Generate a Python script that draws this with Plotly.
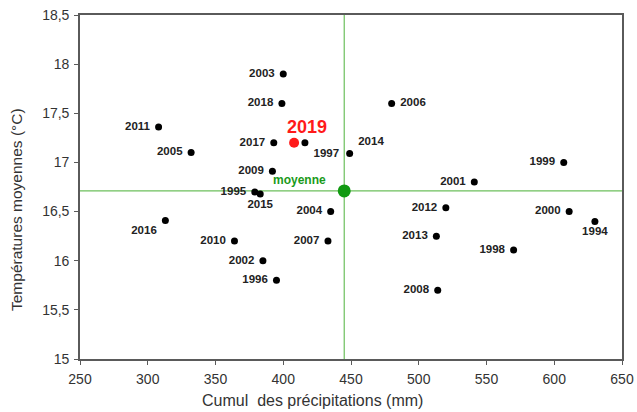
import plotly.graph_objects as go

years = ["2011", "2005", "2003", "2018", "2017", "1997", "2009", "1995", "2015",
         "2006", "2014", "1999", "2001", "2016", "2010", "2002", "1996",
         "2004", "2007", "2012", "2013", "1998", "2008", "2000", "1994"]
precip = [308, 332, 400, 399, 393, 416, 392, 379, 383,
          480, 449, 607, 541, 313, 364, 385, 395,
          435, 433, 520, 513, 570, 514, 611, 630]
temp = [17.36, 17.10, 17.90, 17.60, 17.20, 17.20, 16.91, 16.70, 16.68,
        17.60, 17.09, 17.00, 16.80, 16.41, 16.20, 16.00, 15.80,
        16.50, 16.20, 16.54, 16.25, 16.11, 15.70, 16.50, 16.40]
label_pos = ["middle left", "middle left", "middle left", "middle left", "middle left",
             "bottom right", "middle left", "middle left", "bottom center",
             "middle right", "top right", "middle left", "middle left", "bottom left",
             "middle left", "middle left", "middle left",
             "middle left", "middle left", "middle left", "middle left", "middle left",
             "middle left", "middle left", "bottom center"]

highlight_year = "2019"
highlight_precip = 408
highlight_temp = 17.20

mean_label = "moyenne"
mean_precip = 445
mean_temp = 16.71

x_ticks = [250, 300, 350, 400, 450, 500, 550, 600, 650]
y_ticks = [15, 15.5, 16, 16.5, 17, 17.5, 18, 18.5]

x_title = "Cumul  des précipitations (mm)"
y_title = "Températures moyennes (°C)"

FONT = "Liberation Sans, Arial"

fig = go.Figure()

fig.add_trace(go.Scatter(
    x=precip, y=temp, mode="markers+text", text=[" " + y + " " for y in years],
    textposition=label_pos,
    marker=dict(color="black", size=7),
    textfont=dict(family=FONT, size=11.5, color="#222222", weight="bold"),
    cliponaxis=False, hoverinfo="skip", showlegend=False,
))

fig.add_trace(go.Scatter(
    x=[highlight_precip], y=[highlight_temp], mode="markers",
    marker=dict(color="#ff1a1a", size=10), showlegend=False, hoverinfo="skip",
))
fig.add_annotation(x=highlight_precip, y=highlight_temp, text="<b>" + highlight_year + "</b>",
                   showarrow=False, xshift=13, yshift=16,
                   font=dict(family=FONT, size=18, color="#ff1a1a"))

fig.add_shape(type="line", xref="paper", x0=0, x1=1, yref="y", y0=mean_temp, y1=mean_temp,
              line=dict(color="#6cbf5c", width=1.2), layer="below")
fig.add_shape(type="line", xref="x", x0=mean_precip, x1=mean_precip, yref="paper", y0=0, y1=1,
              line=dict(color="#6cbf5c", width=1.2), layer="below")

fig.add_trace(go.Scatter(
    x=[mean_precip], y=[mean_temp], mode="markers",
    marker=dict(color="#119a11", size=13), showlegend=False, hoverinfo="skip",
))
fig.add_annotation(x=mean_precip, y=mean_temp, text="<b>" + mean_label + "</b>",
                   showarrow=False, xanchor="right", xshift=-16, yshift=11,
                   font=dict(family=FONT, size=12, color="#1a9a1a"))

# axis titles placed as annotations (offset from centre like the reference)
fig.add_annotation(xref="paper", yref="paper", x=0, y=0.5, text=y_title, textangle=-90,
                   showarrow=False, xanchor="center", yanchor="middle",
                   xshift=-64, yshift=-23,
                   font=dict(family=FONT, size=15.5, color="#333333"))
fig.add_annotation(xref="paper", yref="paper", x=0.5, y=0, text=x_title,
                   showarrow=False, xanchor="center", yanchor="middle",
                   xshift=-39, yshift=-41,
                   font=dict(family=FONT, size=16, color="#333333"))

axis_common = dict(showgrid=False, zeroline=False, showline=True, linecolor="#5a5a5a",
                   linewidth=1.6, mirror=True, ticks="outside", ticklen=4,
                   tickcolor="#5a5a5a", automargin=False, ticklabelstandoff=2,
                   ticklabeloverflow="allow",
                   tickfont=dict(family=FONT, size=14, color="#333333"))

fig.update_xaxes(range=[250, 650], tickvals=x_ticks, **axis_common)
fig.update_yaxes(range=[15, 18.5], tickvals=y_ticks, **axis_common)

fig.update_layout(
    width=637, height=412, separators=", ",
    margin=dict(l=79.5, r=15.3, t=15, b=52.7, autoexpand=False),
    paper_bgcolor="white", plot_bgcolor="white",
)

# remove the browser's default 8px body margin so the figure fills the window exactly
fig.write_html("out.html",
               config={"displayModeBar": False},
               post_script="document.body.style.margin='0';document.body.style.overflow='hidden';")
